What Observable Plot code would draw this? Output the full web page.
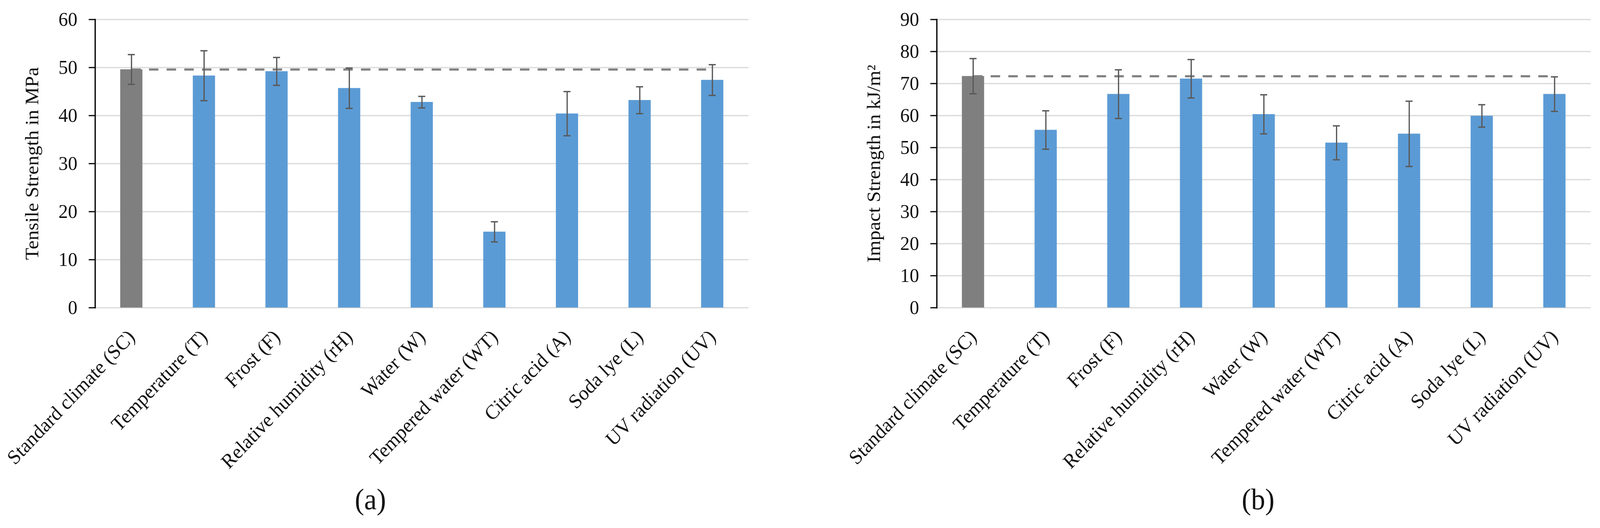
<!DOCTYPE html>
<html><head><meta charset="utf-8">
<script src="https://cdn.jsdelivr.net/npm/d3@7"></script>
<script src="https://cdn.jsdelivr.net/npm/@observablehq/plot@0.6"></script>
<style>
html,body{margin:0;padding:0;background:#fff;overflow:hidden;}
#wrap{position:relative;width:4320px;height:1352px;overflow:hidden;transform-origin:0 0;}
.panel{position:absolute;top:0;width:2160px;height:1352px;}
.cap{position:absolute;top:1222px;font-family:"Liberation Serif",serif;font-size:76px;line-height:112px;color:#111;transform:translateX(-50%);white-space:nowrap;}
svg{display:block;overflow:visible;}
</style></head><body>
<div id="wrap">
  <div class="panel" id="pa" style="left:0"></div>
  <div class="panel" id="pb" style="left:2160px"></div>
</div>
<script>
const categories = ["Standard climate (SC)", "Temperature (T)", "Frost (F)", "Relative humidity (rH)", "Water (W)", "Tempered water (WT)", "Citric acid (A)", "Soda lye (L)", "UV radiation (UV)"];
const tensileMean = [49.6, 48.3, 49.2, 45.7, 42.8, 15.8, 40.4, 43.2, 47.4];
const tensileErr  = [3.1, 5.2, 2.9, 4.2, 1.2, 2.1, 4.6, 2.8, 3.2];
const impactMean  = [72.3, 55.5, 66.7, 71.5, 60.4, 51.5, 54.3, 59.9, 66.7];
const impactErr   = [5.5, 6.0, 7.6, 6.0, 6.1, 5.3, 10.2, 3.5, 5.4];
const tensileTicks = [0, 10, 20, 30, 40, 50, 60];
const impactTicks  = [0, 10, 20, 30, 40, 50, 60, 70, 80, 90];
const yLabels = ["Tensile Strength in MPa", "Impact Strength in kJ/m²"];
const captions = ["(a)", "(b)"];

const FONT = "'Liberation Serif', 'Times New Roman', serif";
const GRAY = "#7f7f7f", BLUE = "#5b9bd5", ERR = "#595959", TXT = "#111";

// fit the 4320-wide design into the actual viewport width
const sx = Math.min(1, window.innerWidth / 4320);
document.getElementById("wrap").style.transform = `scale(${sx}, 1)`;

function chart(means, errs, ticks, label, ml, mr) {
  const data = categories.map((c, i) => ({c, v: means[i], e: errs[i]}));
  const H = 1230, mt = 49.5, mb = H - 787.5;
  const bw = (2160 - ml - mr) / categories.length;
  return Plot.plot({
    width: 2160, height: H,
    marginTop: mt, marginLeft: ml, marginRight: mr, marginBottom: mb,
    style: {fontFamily: FONT, fontSize: "51px", color: TXT, background: "#fff", overflow: "visible"},
    x: {domain: categories, padding: 0, round: false, label: null},
    y: {domain: [ticks[0], ticks[ticks.length - 1]], label: null},
    marks: [
      Plot.gridY(ticks, {stroke: "#d9d9d9", strokeWidth: 2.8, strokeOpacity: 1}),
      Plot.barY(data, {x: "c", y: "v", fill: d => d.c === categories[0] ? GRAY : BLUE,
        insetLeft: bw / 2 - 30, insetRight: bw / 2 - 30}),
      Plot.ruleY([means[0]], {y: d => d, x1: () => categories[0], x2: () => categories[categories.length - 1],
        stroke: "#808080", strokeWidth: 5.5, strokeDasharray: "25.5,22.2", insetLeft: bw / 2, insetRight: bw / 2}),
      Plot.ruleX(data, {x: "c", y1: d => d.v - d.e, y2: d => d.v + d.e, stroke: ERR, strokeWidth: 3.4}),
      Plot.tickY(data, {x: "c", y: d => d.v + d.e, stroke: ERR, strokeWidth: 3.4, insetLeft: bw / 2 - 9.5, insetRight: bw / 2 - 9.5}),
      Plot.tickY(data, {x: "c", y: d => d.v - d.e, stroke: ERR, strokeWidth: 3.4, insetLeft: bw / 2 - 9.5, insetRight: bw / 2 - 9.5}),
      Plot.frame({anchor: "left", stroke: "#000", strokeWidth: 3.4}),
      Plot.axisY(ticks, {tickSize: 17, tickPadding: 31, stroke: "#000", strokeWidth: 3, fontSize: 51, fill: TXT,
        label, labelAnchor: "center", labelOffset: 190, labelArrow: "none"}),
      Plot.axisX({tickSize: 0, tickRotate: -45, tickPadding: 66, fontSize: 52, fill: TXT, label: null})
    ]
  });
}

document.getElementById("pa").appendChild(chart(tensileMean, tensileErr, tensileTicks, yLabels[0], 256.5, 139));
document.getElementById("pb").appendChild(chart(impactMean, impactErr, impactTicks, yLabels[1], 369, 25));

const capPos = [1000, 3397];
captions.forEach((t, i) => {
  const d = document.createElement("div");
  d.className = "cap";
  d.style.left = capPos[i] + "px";
  d.textContent = t;
  document.getElementById("wrap").appendChild(d);
});
</script>
</body></html>
